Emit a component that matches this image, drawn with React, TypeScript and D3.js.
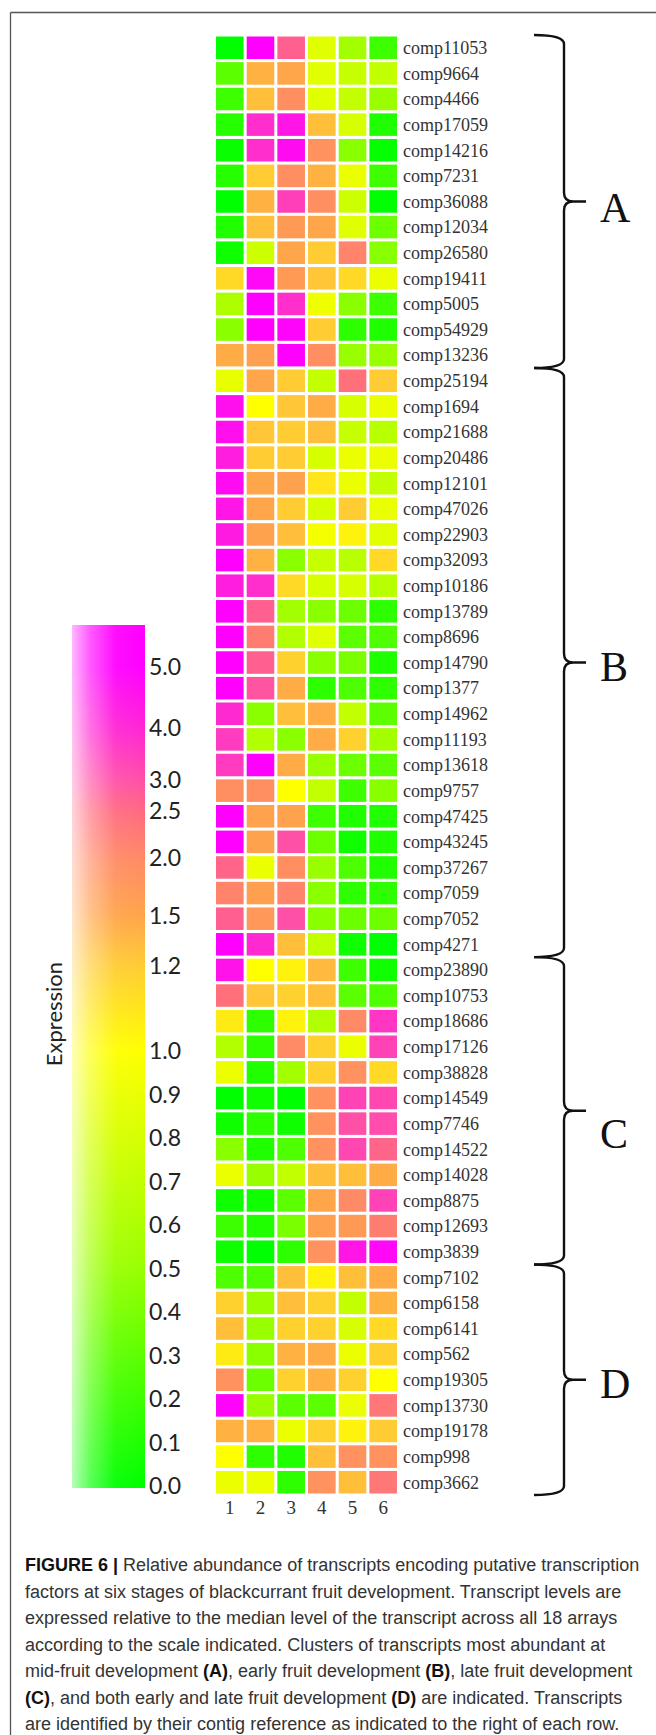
import React from "react";
import * as d3 from "d3";

// ---------- data ----------
const stages = ["1", "2", "3", "4", "5", "6"];

const genes = [
  "comp11053", "comp9664", "comp4466", "comp17059", "comp14216", "comp7231", "comp36088",
  "comp12034", "comp26580", "comp19411", "comp5005", "comp54929", "comp13236",
  "comp25194", "comp1694", "comp21688", "comp20486", "comp12101", "comp47026", "comp22903",
  "comp32093", "comp10186", "comp13789", "comp8696", "comp14790", "comp1377", "comp14962",
  "comp11193", "comp13618", "comp9757", "comp47425", "comp43245", "comp37267", "comp7059",
  "comp7052", "comp4271",
  "comp23890", "comp10753", "comp18686", "comp17126", "comp38828", "comp14549", "comp7746",
  "comp14522", "comp14028", "comp8875", "comp12693", "comp3839",
  "comp7102", "comp6158", "comp6141", "comp562", "comp19305", "comp13730", "comp19178",
  "comp998", "comp3662",
];

const expression: number[][] = [
  [0.0, 5.0, 2.7, 0.85, 0.55, 0.2],
  [0.3, 1.4, 1.5, 0.85, 0.72, 0.7],
  [0.2, 1.3, 1.9, 0.85, 0.7, 0.5],
  [0.12, 3.8, 4.4, 1.3, 0.8, 0.1],
  [0.03, 3.8, 4.7, 1.85, 0.45, 0.02],
  [0.12, 1.2, 1.9, 1.4, 0.9, 0.2],
  [0.0, 1.4, 3.4, 1.9, 0.75, 0.0],
  [0.1, 1.3, 1.7, 1.5, 0.85, 0.35],
  [0.05, 0.75, 1.5, 1.2, 2.1, 0.45],
  [1.15, 4.8, 1.7, 1.25, 1.15, 0.9],
  [0.6, 5.0, 3.8, 0.92, 0.45, 0.2],
  [0.45, 5.0, 4.9, 1.2, 0.15, 0.1],
  [1.45, 1.6, 5.0, 1.9, 0.5, 0.5],
  [0.88, 1.5, 1.2, 0.7, 2.4, 1.2],
  [4.6, 1.0, 1.25, 1.45, 0.8, 0.9],
  [4.6, 1.25, 1.2, 1.3, 0.72, 0.65],
  [4.2, 1.2, 1.2, 0.8, 0.9, 0.9],
  [4.7, 1.5, 1.55, 1.1, 0.9, 0.7],
  [4.4, 1.5, 1.2, 0.8, 1.2, 0.9],
  [4.3, 1.55, 1.3, 0.95, 1.05, 0.85],
  [5.0, 1.4, 0.45, 0.72, 0.65, 1.15],
  [4.2, 3.8, 1.15, 0.8, 0.8, 0.65],
  [5.0, 2.7, 0.55, 0.45, 0.35, 0.15],
  [5.0, 2.2, 0.62, 0.85, 0.3, 0.25],
  [5.0, 2.7, 1.18, 0.45, 0.4, 0.1],
  [5.0, 2.9, 1.45, 0.15, 0.25, 0.15],
  [3.9, 0.45, 1.3, 1.45, 0.7, 0.3],
  [3.5, 0.62, 0.45, 1.45, 1.18, 0.55],
  [3.5, 5.0, 1.45, 0.5, 0.35, 0.3],
  [1.9, 1.9, 1.0, 0.7, 0.2, 0.45],
  [5.0, 1.55, 1.55, 0.2, 0.1, 0.1],
  [5.0, 1.55, 3.0, 0.35, 0.05, 0.1],
  [2.6, 0.9, 1.9, 0.5, 0.25, 0.1],
  [2.1, 1.6, 2.1, 0.45, 0.15, 0.15],
  [2.7, 1.75, 3.0, 0.45, 0.35, 0.35],
  [5.0, 3.9, 1.3, 0.7, 0.05, 0.0],
  [4.5, 1.0, 1.05, 1.35, 0.2, 0.05],
  [2.4, 1.25, 1.18, 1.3, 0.3, 0.25],
  [1.08, 0.15, 1.05, 0.62, 2.0, 3.6],
  [0.62, 0.15, 2.0, 1.18, 0.9, 3.3],
  [0.9, 0.1, 0.55, 1.18, 1.85, 1.15],
  [0.0, 0.05, 0.0, 1.85, 3.3, 3.2],
  [0.05, 0.15, 0.05, 1.85, 3.0, 3.1],
  [0.45, 0.1, 0.25, 1.85, 3.2, 2.6],
  [0.9, 0.5, 0.7, 1.3, 1.3, 1.45],
  [0.05, 0.05, 0.3, 1.5, 2.0, 3.3],
  [0.2, 0.1, 0.4, 1.6, 1.7, 2.2],
  [0.05, 0.0, 0.15, 1.85, 4.4, 4.8],
  [0.25, 0.25, 1.3, 1.05, 1.3, 1.45],
  [1.18, 0.5, 1.3, 1.18, 0.7, 1.4],
  [1.3, 0.5, 1.18, 1.18, 0.8, 1.15],
  [1.08, 0.45, 1.4, 1.45, 0.9, 1.18],
  [1.85, 0.35, 1.18, 1.4, 1.18, 1.0],
  [4.9, 0.5, 0.3, 0.3, 0.9, 2.3],
  [1.4, 1.4, 0.9, 1.18, 1.05, 1.2],
  [1.0, 0.15, 0.1, 1.3, 1.85, 1.85],
  [0.9, 0.9, 0.15, 1.85, 1.3, 2.3],
];

const clusterNames = ["A", "B", "C", "D"];
const clusterSizes = [13, 23, 12, 9];

const legendTicks = [0.0, 0.1, 0.2, 0.3, 0.4, 0.5, 0.6, 0.7, 0.8, 0.9, 1.0, 1.2, 1.5, 2.0, 2.5, 3.0, 4.0, 5.0];

const captionLines: { text: string; bold?: boolean }[][] = [
  [{ text: "FIGURE 6 | ", bold: true }, { text: "Relative abundance of transcripts encoding putative transcription" }],
  [{ text: "factors at six stages of blackcurrant fruit development. Transcript levels are" }],
  [{ text: "expressed relative to the median level of the transcript across all 18 arrays" }],
  [{ text: "according to the scale indicated. Clusters of transcripts most abundant at" }],
  [{ text: "mid-fruit development " }, { text: "(A)", bold: true }, { text: ", early fruit development " }, { text: "(B)", bold: true }, { text: ", late fruit development" }],
  [{ text: "(C)", bold: true }, { text: ", and both early and late fruit development " }, { text: "(D)", bold: true }, { text: " are indicated. Transcripts" }],
  [{ text: "are identified by their contig reference as indicated to the right of each row." }],
];

// ---------- scales ----------
const color = d3
  .scaleLinear<string>()
  .domain([0, 0.5, 1.0, 1.2, 1.5, 2.0, 2.5, 3.0, 4.0, 5.0])
  .range(["#00ff00", "#99ff00", "#ffff00", "#ffcc33", "#ffa54a", "#ff8a66", "#ff6a80", "#ff50a8", "#ff25d5", "#ff00ff"])
  .interpolate(d3.interpolateRgb)
  .clamp(true);

const W = 656;
const H = 1735;

const x = d3.scaleBand<string>().domain(stages).range([216, 397]).paddingInner(0.1);
const y = d3.scaleBand<string>().domain(genes).range([36.5, 1493.5]).paddingInner(0.12);

const barTop = 625;
const barBottom = 1488;
const legendY = d3
  .scaleLinear()
  .domain([0, 1.0, 1.2, 1.5, 2.0, 2.5, 3.0, 4.0, 5.0, 5.7])
  .range([1486, 1051, 966, 916, 858, 811, 780, 728, 667, barTop]);

const gradValues = [0, 0.25, 0.5, 0.75, 1.0, 1.2, 1.5, 2.0, 2.5, 3.0, 4.0, 5.0, 5.7];

function bracePath(y0: number, y1: number, x0: number, xs: number, xt: number) {
  const ym = (y0 + y1) / 2;
  const r = 9;
  return [
    `M${x0},${y0}`,
    `Q${xs},${y0} ${xs},${y0 + r}`,
    `L${xs},${ym - r}`,
    `Q${xs},${ym} ${xs + r},${ym}`,
    `L${xt},${ym}`,
    `M${xs + r},${ym}`,
    `Q${xs},${ym} ${xs},${ym + r}`,
    `L${xs},${y1 - r}`,
    `Q${xs},${y1} ${x0},${y1}`,
  ].join(" ");
}

export default function App() {
  const step = y.step();
  let idx = 0;
  const clusters = clusterNames.map((name, i) => {
    const first = genes[idx];
    const last = genes[idx + clusterSizes[i] - 1];
    idx += clusterSizes[i];
    const y0 = (y(first) as number) - (step - y.bandwidth()) / 2;
    const y1 = (y(last) as number) + y.bandwidth() + (step - y.bandwidth()) / 2;
    return { name, y0, y1 };
  });
  const letterDy: Record<string, number> = { A: 6, B: 4, C: 22, D: 4 };

  const serif = "'Liberation Serif', 'Times New Roman', serif";
  const sans = "'Liberation Sans', Arial, sans-serif";
  const legendFont = "Lato, 'Open Sans', sans-serif";

  return (
    <div style={{ position: "absolute", left: 0, top: 0, width: W, height: H, background: "#fff" }}>
      <svg width={W} height={H} viewBox={`0 0 ${W} ${H}`} style={{ display: "block" }}>
        <defs>
          <linearGradient id="barGrad" x1="0" y1="1" x2="0" y2="0">
            {gradValues.map((v) => (
              <stop
                key={v}
                offset={(barBottom - legendY(v)) / (barBottom - barTop)}
                stopColor={color(v)}
              />
            ))}
          </linearGradient>
          <linearGradient id="barWhite" x1="0" y1="0" x2="1" y2="0">
            <stop offset="0" stopColor="#fff" stopOpacity={0.72} />
            <stop offset="0.25" stopColor="#fff" stopOpacity={0.35} />
            <stop offset="0.6" stopColor="#fff" stopOpacity={0.05} />
            <stop offset="1" stopColor="#fff" stopOpacity={0} />
          </linearGradient>
        </defs>
        <rect x={0} y={0} width={W} height={H} fill="#fff" />

        {/* frame */}
        <line x1={10.5} y1={12.5} x2={W} y2={12.5} stroke="#555" strokeWidth={1.3} />
        <line x1={10.5} y1={12.5} x2={10.5} y2={H} stroke="#555" strokeWidth={1.3} />

        {/* heatmap */}
        <g>
          {genes.map((g, i) =>
            stages.map((s, j) => (
              <rect
                key={g + s}
                x={x(s)}
                y={y(g)}
                width={x.bandwidth()}
                height={y.bandwidth()}
                fill={color(expression[i][j])}
              />
            ))
          )}
        </g>

        {/* row labels */}
        <g fontFamily={serif} fontSize={18} fill="#333">
          {genes.map((g) => (
            <text key={g} x={403} y={(y(g) as number) + y.bandwidth() / 2} dy="0.35em">
              {g}
            </text>
          ))}
        </g>

        {/* column labels */}
        <g fontFamily={serif} fontSize={19} fill="#333" textAnchor="middle">
          {stages.map((s) => (
            <text key={s} x={(x(s) as number) + x.bandwidth() / 2} y={1514}>
              {s}
            </text>
          ))}
        </g>

        {/* braces */}
        <g fill="none" stroke="#111" strokeWidth={2.4}>
          {clusters.map((c) => (
            <path key={c.name} d={bracePath(c.y0, c.y1, 534, 564, 586)} />
          ))}
        </g>
        <g fontFamily={serif} fontSize={42} fill="#111">
          {clusters.map((c) => (
            <text key={c.name} x={600} y={(c.y0 + c.y1) / 2 + letterDy[c.name]} dy="0.35em">
              {c.name}
            </text>
          ))}
        </g>

        {/* legend */}
        <rect x={72} y={barTop} width={73} height={barBottom - barTop} fill="url(#barGrad)" />
        <rect x={72} y={barTop} width={73} height={barBottom - barTop} fill="url(#barWhite)" />
        <g fontFamily={legendFont} fontSize={23} fill="#222">
          {legendTicks.map((t) => (
            <text key={t} x={149} y={legendY(t)} dy="0.35em">
              {t.toFixed(1)}
            </text>
          ))}
        </g>
        <text
          fontFamily={legendFont}
          fontSize={22}
          fill="#222"
          textAnchor="middle"
          transform={`translate(54,1014) rotate(-90)`}
          dy="0.35em"
        >
          Expression
        </text>

        {/* caption */}
        <g fontFamily={sans} fontSize={18} fill="#333">
          {captionLines.map((line, i) => (
            <text key={i} x={25} y={1571 + i * 26.5}>
              {line.map((seg, k) => (
                <tspan key={k} fontWeight={seg.bold ? 700 : 400} fill={seg.bold ? "#111" : "#333"}>
                  {seg.text}
                </tspan>
              ))}
            </text>
          ))}
        </g>
      </svg>
    </div>
  );
}
